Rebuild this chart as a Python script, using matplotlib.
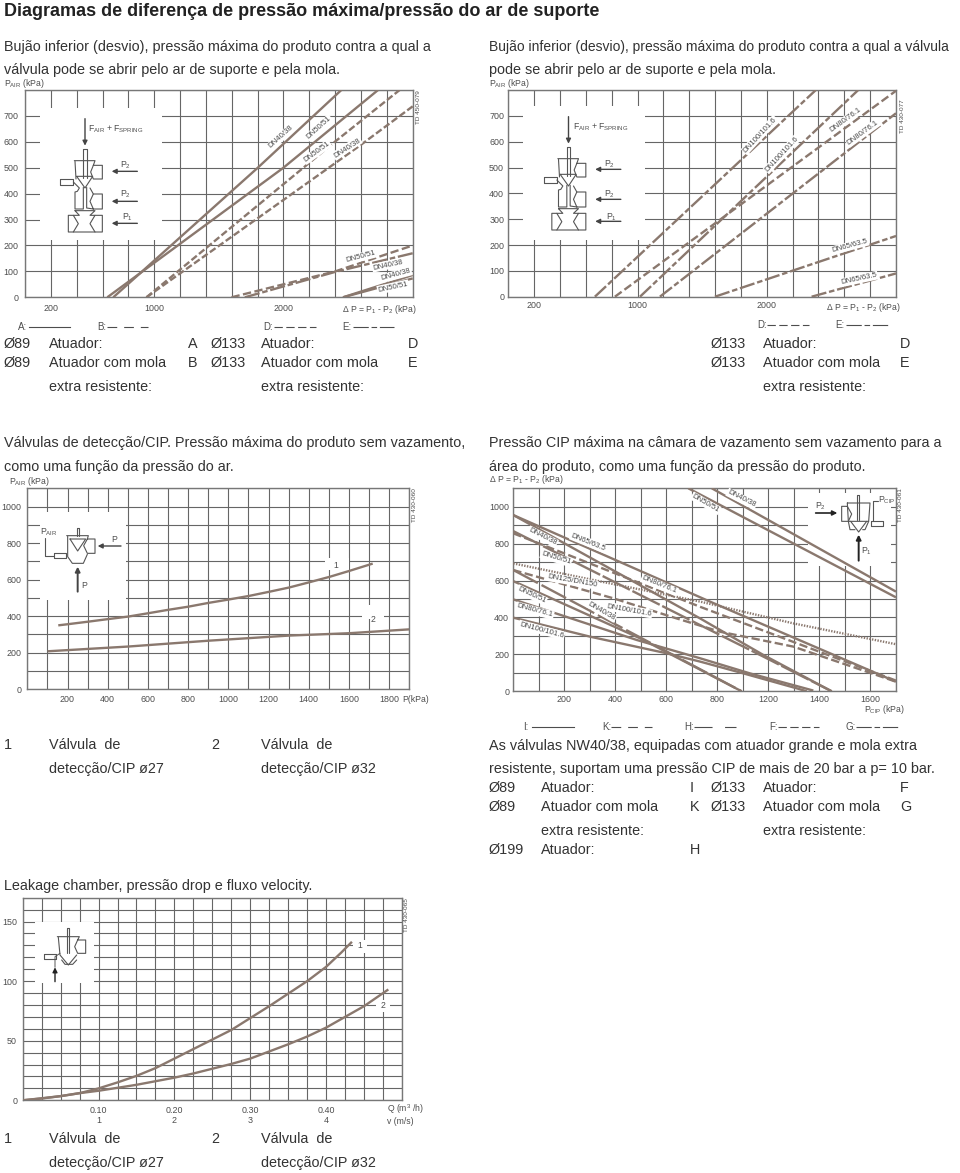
import matplotlib
matplotlib.use('Agg')
import matplotlib.pyplot as plt
from matplotlib.patches import Rectangle

plt.rcParams['font.family'] = ['Liberation Sans', 'DejaVu Sans']
plt.rcParams['mathtext.default'] = 'regular'
plt.rcParams['lines.scale_dashes'] = False

W, H = 960, 1173
CURVE = '#8a786e'
GRID = '#666666'
TICK = '#4d4d4d'
BODY = '#333333'

SOLID = '-'
LONG_GAP = (0, (7, 5))
SHORT = (0, (5, 2))
DASHED = (0, (6, 2.5))
LONG_SHORT = (0, (11, 2, 4, 2))
DOTTED = (0, (1, 1))

# grafico 1: delta P / P ar, Ø89 e Ø133
c1_a1_x = [683, 1799, 2448]
c1_a1_y = [0, 499, 800]
c1_a2_x = [637, 1997, 2732]
c1_a2_y = [0, 499, 800]
c1_b1_x = [940, 2397, 2899]
c1_b1_y = [0, 600, 800]
c1_b2_x = [940, 2590, 3000]
c1_b2_y = [0, 585, 737]
c1_d1_x = [1598, 2400, 3000]
c1_d1_y = [0, 100, 200]
c1_d2_x = [1701, 2400, 3000]
c1_d2_y = [0, 98, 170]
c1_e1_x = [2461, 3000]
c1_e1_y = [0, 86]
c1_e2_x = [2461, 3000]
c1_e2_y = [0, 73]

# grafico 2: delta P / P ar, DN maiores
c2_a_x = [670, 2380]
c2_a_y = [0, 800]
c2_b_x = [1019, 2708]
c2_b_y = [0, 800]
c2_c_x = [825, 3000]
c2_c_y = [0, 797]
c2_d_x = [1173, 3000]
c2_d_y = [0, 710]
c2_e_x = [1599, 3000]
c2_e_y = [0, 235]
c2_f_x = [2347, 3000]
c2_f_y = [0, 90]

# grafico 3: valvula 1 e 2
c3_v1_x = [154, 200, 302, 400, 502, 600, 701, 800, 902, 1000, 1103, 1200, 1302, 1400, 1502, 1602, 1718]
c3_v1_y = [350, 356, 370, 384, 398, 416, 435, 452, 473, 491, 511, 533, 557, 585, 615, 648, 688]
c3_v2_x = [101, 502, 902, 1302, 1602, 1900]
c3_v2_y = [208, 234, 266, 294, 307, 328]

# grafico 4: P CIP
c4_top1_x = [778, 1500]
c4_top1_y = [1100, 540]
c4_top2_x = [686, 1500]
c4_top2_y = [1100, 509]
c4_dn65_x = [0, 771, 1500]
c4_dn65_y = [955, 486, 52]
c4_b1_x = [0, 732, 980, 1248]
c4_b1_y = [955, 395, 197, 0]
c4_b2_x = [0, 732, 980, 1248]
c4_b2_y = [868, 359, 188, 0]
c4_f_x = [0, 732, 1500]
c4_f_y = [856, 458, 58]
c4_g_x = [0, 392, 640, 810, 1098, 1500]
c4_g_y = [657, 504, 395, 323, 242, 52]
c4_h_x = [0, 314, 732, 1098, 1500]
c4_h_y = [693, 603, 486, 368, 255]
c4_l1_x = [0, 895]
c4_l1_y = [657, 0]
c4_l2_x = [0, 497, 895]
c4_l2_y = [597, 287, 0]
c4_dn80_x = [0, 484, 732, 928, 1176]
c4_dn80_y = [498, 278, 179, 97, 4]
c4_dn100_x = [0, 301, 601, 732, 902, 1111, 1150]
c4_dn100_y = [399, 296, 206, 161, 97, 16, 0]

# grafico 5: perda de carga
c5_q1 = [0, 0.025, 0.05, 0.075, 0.10, 0.125, 0.15, 0.175, 0.20, 0.225, 0.25, 0.275, 0.30, 0.325, 0.35, 0.375, 0.40, 0.42, 0.434]
c5_p1 = [0, 1.7, 3.5, 6, 10, 15, 20.5, 27, 35, 43, 51, 59, 69, 79, 89.5, 100, 112, 124, 133]
c5_q2 = [0, 0.025, 0.05, 0.075, 0.10, 0.125, 0.15, 0.175, 0.20, 0.225, 0.25, 0.275, 0.30, 0.325, 0.35, 0.375, 0.40, 0.425, 0.45, 0.482]
c5_p2 = [0, 1.5, 3.5, 6, 8, 10.5, 13, 16, 19, 22.5, 26.5, 30.5, 35, 41, 47, 53.5, 61, 70, 79, 93]

fig = plt.figure(figsize=(W / 100, H / 100), dpi=100, facecolor='white')

# camada de pagina em pixels, por cima dos graficos
page = fig.add_axes([0, 0, 1, 1], zorder=10)
page.set_xlim(0, W)
page.set_ylim(H, 0)
page.axis('off')


def chart(l, t, r, b, xlim, ylim, xgrid, ygrid, xticks, xlabels, yticks, pad, box=None):
    ax = fig.add_axes([l / W, 1 - b / H, (r - l) / W, (b - t) / H])
    ax.patch.set_alpha(0)
    ax.set_xlim(*xlim)
    ax.set_ylim(*ylim)
    ax.set_xticks(xgrid)
    ax.set_yticks(ygrid)
    ax.set_xticklabels([xlabels[xticks.index(v)] if v in xticks else '' for v in xgrid])
    ax.set_yticklabels([str(v) if v in yticks else '' for v in ygrid])
    ax.tick_params(length=0, labelsize=6.4, labelcolor=TICK, pad=pad)
    ax.grid(True, color=GRID, lw=0.8)
    ax.set_axisbelow(True)
    for s in ax.spines.values():
        s.set_color('#777777')
        s.set_linewidth(1.0)
    if box:
        ax.add_patch(Rectangle((box[0], box[1]), box[2] - box[0], box[3] - box[1],
                               transform=page.transData, fc='white', ec='none', zorder=2))
    return ax


def curve(ax, x, y, ls=SOLID, lw=1.7):
    ax.plot(x, y, color=CURVE, lw=lw, ls=ls, zorder=3, solid_capstyle='butt', dash_capstyle='butt')


def txt(x, y, s, size=10.4, color=BODY, **kw):
    kw.setdefault('ha', 'left')
    kw.setdefault('va', 'center')
    page.text(x, y, s, fontsize=size, color=color, **kw)


def dn(x, y, s, rot):
    page.text(x, y, s, fontsize=5.6, color='#4a4a4a', rotation=rot, ha='center', va='center',
              rotation_mode='anchor', bbox=dict(fc='white', ec='none', pad=0.6))


def small(x, y, s):
    txt(x, y, s, size=6.2, color=TICK)


def td(x, y, s):
    page.text(x, y, s, fontsize=4.6, color=TICK, rotation=90, ha='center', va='top')


def sample(x0, x1, y, ls, label, lx):
    txt(lx, y, label, size=7, color=TICK)
    page.plot([x0, x1], [y, y], color=TICK, lw=0.8, ls=ls)


def draw(ox, oy, pts, lw=0.8):
    # contorno do icone, coordenadas locais em 1/3 de pixel
    page.plot([ox + p[0] / 3 for p in pts], [oy + p[1] / 3 for p in pts], color='#555555', lw=lw,
              solid_capstyle='round')


def arrow(x0, y0, x1, y1, lw=1.0, color='#444444'):
    page.annotate('', xy=(x1, y1), xytext=(x0, y0),
                  arrowprops=dict(arrowstyle='-|>', color=color, lw=lw, mutation_scale=7, shrinkA=0, shrinkB=0))


def icon_double(ox, oy):
    draw(ox, oy, [(130, 210), (130, 122), (140, 122), (140, 210)])
    draw(ox, oy, [(103, 158), (165, 158), (160, 172), (187, 172), (187, 213), (160, 213), (152, 192), (160, 172)])
    draw(ox, oy, [(105, 160), (108, 213)])
    draw(ox, oy, [(110, 205), (158, 205), (135, 240), (110, 205)])
    draw(ox, oy, [(60, 213), (100, 213), (100, 230), (60, 230), (60, 213)])
    draw(ox, oy, [(100, 222), (118, 240), (112, 250), (105, 252), (105, 303), (130, 303), (130, 238)])
    draw(ox, oy, [(140, 238), (140, 300), (160, 303), (187, 303), (187, 258), (160, 258), (150, 280), (160, 303)])
    draw(ox, oy, [(150, 240), (160, 258)])
    draw(ox, oy, [(105, 308), (165, 308), (150, 322), (187, 322), (187, 372), (85, 372), (85, 322), (118, 322), (105, 308)])
    draw(ox, oy, [(100, 322), (115, 347), (100, 372)])
    draw(ox, oy, [(165, 322), (150, 347), (165, 372)])
    arrow(ox + 135 / 3, oy + 32 / 3, ox + 135 / 3, oy + 113 / 3)
    for ay in (190, 280, 346):
        arrow(ox + 292 / 3, oy + ay / 3, ox + 215 / 3, oy + ay / 3)


def icon_air(ox, oy):
    draw(ox, oy, [(125, 62), (125, 38), (133, 38), (133, 62)])
    draw(ox, oy, [(95, 62), (160, 62), (157, 72), (180, 72), (180, 115), (157, 115), (146, 92), (157, 72)])
    draw(ox, oy, [(98, 64), (98, 125), (112, 145), (145, 145), (157, 118)])
    draw(ox, oy, [(105, 72), (152, 72), (128, 108), (105, 72)])
    draw(ox, oy, [(58, 115), (92, 115), (92, 130), (58, 130), (58, 115)])
    draw(ox, oy, [(30, 68), (30, 122), (58, 122)])
    arrow(ox + 258 / 3, oy + 93 / 3, ox + 188 / 3, oy + 93 / 3)
    arrow(ox + 128 / 3, oy + 230 / 3, ox + 128 / 3, oy + 155 / 3, lw=1.4)


def icon_cip(ox, oy):
    draw(ox, oy, [(140, 95), (140, 22), (148, 22), (148, 95)])
    draw(ox, oy, [(112, 45), (180, 45), (176, 100), (115, 100), (112, 45)])
    draw(ox, oy, [(112, 55), (95, 55), (95, 100), (115, 100), (125, 78), (112, 55)])
    draw(ox, oy, [(122, 100), (146, 132), (170, 100)])
    draw(ox, oy, [(115, 100), (120, 125), (135, 125)])
    draw(ox, oy, [(176, 100), (165, 125), (158, 125)])
    draw(ox, oy, [(182, 100), (218, 100), (218, 115), (182, 115), (182, 100)])
    draw(ox, oy, [(190, 100), (190, 38), (203, 38)])
    arrow(ox + 17 / 3, oy + 75 / 3, ox + 82 / 3, oy + 75 / 3, lw=1.2, color='#222222')
    arrow(ox + 146 / 3, oy + 218 / 3, ox + 146 / 3, oy + 140 / 3, lw=1.4, color='#222222')


def icon_leak(ox, oy):
    draw(ox, oy, [(110, 100), (110, 25), (118, 25), (118, 100)])
    draw(ox, oy, [(82, 50), (148, 50), (143, 60), (167, 60), (167, 100), (143, 100), (134, 80), (143, 60)])
    draw(ox, oy, [(85, 52), (90, 105), (115, 135), (140, 105)])
    draw(ox, oy, [(95, 120), (105, 133), (128, 133), (140, 120)])
    draw(ox, oy, [(43, 103), (78, 103), (78, 118), (43, 118), (43, 103)])
    arrow(ox + 75 / 3, oy + 185 / 3, ox + 75 / 3, oy + 142 / 3, lw=1.0, color='#222222')
    draw(ox, oy, [(75, 142), (75, 110), (90, 100)], lw=0.7)


# ---- textos gerais
txt(4, 11, 'Diagramas de diferença de pressão máxima/pressão do ar de suporte', size=12.95, color='#222222', fontweight='bold')
txt(4, 47, 'Bujão inferior (desvio), pressão máxima do produto contra a qual a')
txt(4, 70, 'válvula pode se abrir pelo ar de suporte e pela mola.')
txt(489, 47, 'Bujão inferior (desvio), pressão máxima do produto contra a qual a válvula', size=10.0)
txt(489, 70, 'pode se abrir pelo ar de suporte e pela mola.')

txt(4, 443, 'Válvulas de detecção/CIP. Pressão máxima do produto sem vazamento,', size=10.35)
txt(4, 467, 'como uma função da pressão do ar.')
txt(489, 443, 'Pressão CIP máxima na câmara de vazamento sem vazamento para a')
txt(489, 467, 'área do produto, como uma função da pressão do produto.')
txt(4, 886, 'Leakage chamber, pressão drop e fluxo velocity.')

# ---- grafico 1
xg = list(range(0, 3001, 200))
yg = list(range(0, 801, 100))
yt = list(range(0, 701, 100))
ax1 = chart(25, 90, 412.7, 297.3, (0, 3000), (0, 800), xg, yg, [200, 1000, 2000], ['200', '1000', '2000'],
            yt, 4.5, box=(40, 108, 162, 240))
curve(ax1, c1_a1_x, c1_a1_y)
curve(ax1, c1_a2_x, c1_a2_y)
curve(ax1, c1_b1_x, c1_b1_y, SHORT)
curve(ax1, c1_b2_x, c1_b2_y, SHORT)
curve(ax1, c1_d1_x, c1_d1_y, DASHED)
curve(ax1, c1_d2_x, c1_d2_y, LONG_SHORT)
curve(ax1, c1_e1_x, c1_e1_y)
curve(ax1, c1_e2_x, c1_e2_y)
for x, y, s, r in [(281, 137, 'DN40/38', 42), (319, 128, 'DN50/51', 42), (317, 152, 'DN50/51', 36),
                   (347, 148, 'DN40/38', 33), (361, 257, 'DN50/51', 15), (388, 265, 'DN40/38', 12),
                   (396, 275, 'DN40/38', 15), (393, 287, 'DN50/51', 12)]:
    dn(x, y, s, r)
small(4, 83, r'P$_{AIR}$ (kPa)')
td(418, 90, 'TD 450-079')
small(342, 309, r'$\Delta$ P = P$_{1}$ - P$_{2}$ (kPa)')
sample(29, 70, 327, SOLID, 'A:', 18)
sample(107, 148, 327, LONG_GAP, 'B:', 97)
sample(274, 316, 327, DASHED, 'D:', 263)
sample(353, 394, 327, LONG_SHORT, 'E:', 342)
icon_double(40, 108)
small(88, 129, r'F$_{AIR}$ + F$_{SPRING}$')
small(120, 165, r'P$_{2}$')
small(120, 194, r'P$_{2}$')
small(122, 217, r'P$_{1}$')

txt(4, 344, 'Ø89')
txt(49, 344, 'Atuador:')
txt(188, 344, 'A')
txt(211, 344, 'Ø133')
txt(261, 344, 'Atuador:')
txt(408, 344, 'D')
txt(4, 363, 'Ø89')
txt(49, 363, 'Atuador com mola')
txt(188, 363, 'B')
txt(211, 363, 'Ø133')
txt(261, 363, 'Atuador com mola')
txt(408, 363, 'E')
txt(49, 387, 'extra resistente:')
txt(261, 387, 'extra resistente:')

# ---- grafico 2
ax2 = chart(508.3, 90, 896, 296.7, (0, 3000), (0, 800), xg, yg, [200, 1000, 2000], ['200', '1000', '2000'],
            yt, 3, box=(523, 106, 645, 240))
curve(ax2, c2_a_x, c2_a_y, LONG_SHORT)
curve(ax2, c2_b_x, c2_b_y, LONG_SHORT)
curve(ax2, c2_c_x, c2_c_y, DASHED)
curve(ax2, c2_d_x, c2_d_y, LONG_SHORT)
curve(ax2, c2_e_x, c2_e_y, LONG_SHORT)
curve(ax2, c2_f_x, c2_f_y, LONG_SHORT)
for x, y, s, r in [(760, 135, 'DN100/101.6', 47), (782, 154, 'DN100/101.6', 47), (846, 120, 'DN80/76.1', 36),
                   (863, 133, 'DN80/76.1', 36), (850, 246, 'DN65/63.5', 15), (859, 279, 'DN65/63.5', 12)]:
    dn(x, y, s, r)
small(489, 83, r'P$_{AIR}$ (kPa)')
td(903, 99, 'TD 430-077')
small(826, 307, r'$\Delta$ P = P$_{1}$ - P$_{2}$ (kPa)')
sample(767, 809, 325, DASHED, 'D:', 757)
sample(846, 888, 325, LONG_SHORT, 'E:', 835)
icon_double(523.5, 106)
small(573, 127, r'F$_{AIR}$ + F$_{SPRING}$')
small(604, 164, r'P$_{2}$')
small(604, 194, r'P$_{2}$')
small(606, 217, r'P$_{1}$')

txt(711, 344, 'Ø133')
txt(763, 344, 'Atuador:')
txt(900, 344, 'D')
txt(711, 363, 'Ø133')
txt(763, 363, 'Atuador com mola')
txt(900, 363, 'E')
txt(763, 387, 'extra resistente:')

# ---- grafico 3
xg3 = list(range(0, 1901, 100))
yg3 = list(range(0, 1101, 100))
xt3 = list(range(200, 1801, 200))
ax3 = chart(27.3, 488.3, 409.3, 689.3, (0, 1900), (0, 1100), xg3, yg3, xt3, [str(v) for v in xt3],
            list(range(0, 1001, 200)), 4, box=(40, 512, 126, 600))
ax3.add_patch(Rectangle((325, 558), 24, 12, transform=page.transData, fc='white', ec='none', zorder=2))
ax3.add_patch(Rectangle((362, 605), 22, 14, transform=page.transData, fc='white', ec='none', zorder=2))
curve(ax3, c3_v1_x, c3_v1_y)
curve(ax3, c3_v2_x, c3_v2_y)
small(9, 481, r'P$_{AIR}$ (kPa)')
td(414, 488, 'TD 430-060')
small(402, 699, 'P(kPa)')
txt(336, 565, '1', size=6.2, color=TICK, ha='center')
txt(373, 620, '2', size=6.2, color=TICK, ha='center')
icon_air(35, 515)
small(40, 532, r'P$_{AIR}$')
small(111, 540, 'P')
small(81, 585, 'P')

txt(4, 745, '1')
txt(49, 745, 'Válvula  de')
txt(211, 745, '2')
txt(261, 745, 'Válvula  de')
txt(49, 769, 'detecção/CIP ø27')
txt(261, 769, 'detecção/CIP ø32')

# ---- grafico 4 (as marcas 1000-1400 vem rotuladas 1200-1600 no original)
xg4 = list(range(0, 1501, 100))
xt4 = [200, 400, 600, 800, 1000, 1200, 1400]
xl4 = ['200', '400', '600', '800', '1200', '1400', '1600']
ax4 = chart(513.3, 488.3, 896, 691.3, (0, 1500), (0, 1100), xg4, yg3, xt4, xl4,
            list(range(0, 1001, 200)), 3, box=(808, 493, 891, 566))
curve(ax4, c4_top1_x, c4_top1_y)
curve(ax4, c4_top2_x, c4_top2_y)
curve(ax4, c4_dn65_x, c4_dn65_y)
curve(ax4, c4_b1_x, c4_b1_y)
curve(ax4, c4_b2_x, c4_b2_y, (0, (22, 2)))
curve(ax4, c4_f_x, c4_f_y, DASHED)
curve(ax4, c4_g_x, c4_g_y, DASHED)
curve(ax4, c4_h_x, c4_h_y, DOTTED)
curve(ax4, c4_l1_x, c4_l1_y, (0, (20, 3)))
curve(ax4, c4_l2_x, c4_l2_y)
curve(ax4, c4_dn80_x, c4_dn80_y)
curve(ax4, c4_dn100_x, c4_dn100_y)
for cx, cy, s, r in [(785, 87, 'DN40/38', -27), (677, 100, 'DN50/51', -30), (188, 200, 'DN40/38', -27),
                     (325, 217, 'DN65/63.5', -22), (228, 265, 'DN50/51', -17), (277, 333, 'DN125/DN150', -10),
                     (538, 345, 'DN80/76.1', -22), (447, 420, 'DN100/101.6', -10), (365, 423, 'DN40/38', -30),
                     (155, 375, 'DN50/51', -25), (165, 422, 'DN80/76.1', -15), (185, 480, 'DN100/101.6', -15)]:
    dn(480 + cx / 3, 470 + cy / 3, s, r)
small(489, 480, r'$\Delta$ P = P$_{1}$ - P$_{2}$ (kPa)')
td(901, 488, 'TD 430-061')
small(864, 709, r'P$_{CIP}$ (kPa)')
sample(532, 574, 727, SOLID, 'I:', 523)
sample(611, 652, 727, LONG_GAP, 'K:', 602)
sample(694, 736, 727, (0, (13, 9)), 'H:', 684)
sample(778, 819, 727, DASHED, 'F:', 769)
sample(856, 898, 727, LONG_SHORT, 'G:', 846)
icon_cip(810, 488)
small(815, 506, r'P$_{2}$')
small(878, 500, r'P$_{CIP}$')
small(861, 551, r'P$_{1}$')

txt(489, 746, 'As válvulas NW40/38, equipadas com atuador grande e mola extra')
txt(489, 769, 'resistente, suportam uma pressão CIP de mais de 20 bar a p= 10 bar.')
txt(489, 788, 'Ø89')
txt(541, 788, 'Atuador:')
txt(690, 788, 'I')
txt(711, 788, 'Ø133')
txt(763, 788, 'Atuador:')
txt(900, 788, 'F')
txt(489, 807, 'Ø89')
txt(541, 807, 'Atuador com mola')
txt(690, 807, 'K')
txt(711, 807, 'Ø133')
txt(763, 807, 'Atuador com mola')
txt(900, 807, 'G')
txt(541, 831, 'extra resistente:')
txt(763, 831, 'extra resistente:')
txt(489, 850, 'Ø199')
txt(541, 850, 'Atuador:')
txt(690, 850, 'H')

# ---- grafico 5
xg5 = [i * 0.025 for i in range(21)]
yg5 = list(range(0, 171, 10))
xt5 = [xg5[4], xg5[8], xg5[12], xg5[16]]
ax5 = chart(22.7, 897.7, 402, 1100.3, (0, 0.5), (0, 170), xg5, yg5, xt5, ['0.10\n1', '0.20\n2', '0.30\n3', '0.40\n4'],
            [0, 50, 100, 150], 4, box=(35, 922, 94, 983))
ax5.add_patch(Rectangle((353, 940), 14, 13, transform=page.transData, fc='white', ec='none', zorder=2))
ax5.add_patch(Rectangle((376, 1000), 14, 12, transform=page.transData, fc='white', ec='none', zorder=2))
curve(ax5, c5_q1, c5_p1)
curve(ax5, c5_q2, c5_p2)
td(407, 898, 'TD 430-065')
small(387, 1109, r'Q (m$^{3}$ /h)')
small(387, 1121, 'v (m/s)')
txt(360, 946, '1', size=6.2, color=TICK, ha='center')
txt(383, 1005, '2', size=6.2, color=TICK, ha='center')
icon_leak(30, 920)

txt(4, 1139, '1')
txt(49, 1139, 'Válvula  de')
txt(211, 1139, '2')
txt(261, 1139, 'Válvula  de')
txt(49, 1163, 'detecção/CIP ø27')
txt(261, 1163, 'detecção/CIP ø32')

fig.savefig('out.png', dpi=100, facecolor='white')
